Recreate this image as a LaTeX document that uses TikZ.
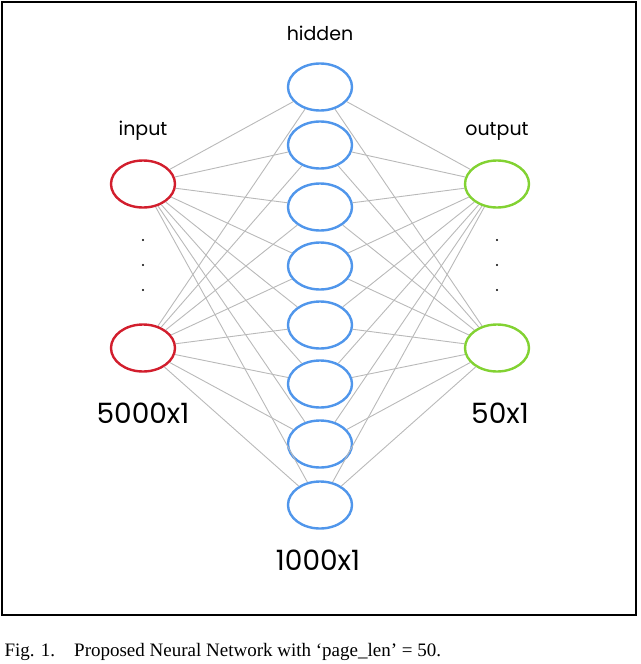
\documentclass[tikz,border=0pt]{standalone}
\usepackage{fontspec}
\setmainfont{Poppins}
\newfontfamily\capfont{Liberation Serif}
\usetikzlibrary{shapes.geometric}
\begin{document}
\begin{tikzpicture}[x=1pt,y=-1pt,
  neuron/.style={ellipse,draw,line width=2.4pt,minimum width=64pt,minimum height=47pt,inner sep=0pt},
  inp/.style={neuron,draw={rgb,255:red,210;green,30;blue,45}},
  hid/.style={neuron,draw={rgb,255:red,80;green,150;blue,235}},
  outp/.style={neuron,draw={rgb,255:red,130;green,210;blue,50}},
  edge/.style={draw={rgb,255:red,185;green,185;blue,185},line width=0.9pt},
  lbl/.style={font=\fontsize{19}{22}\selectfont},
  big/.style={font=\fontsize{28}{32}\selectfont}]
\useasboundingbox (0,0) rectangle (640,664);
\draw[line width=1.2pt] (2,2) rectangle (636,615);
\node[inp] (i1) at (143,184) {};
\node[inp] (i2) at (143,348) {};
\node[outp] (o1) at (497,184) {};
\node[outp] (o2) at (497,348) {};
\foreach \y [count=\k] in {87,145,207,266,325,384,444,505}
  \node[hid] (h\k) at (320,\y) {};
\foreach \k in {1,...,8} {
  \foreach \a in {i1,i2} \draw[edge] (\a) -- (h\k);
  \foreach \b in {o1,o2} \draw[edge] (h\k) -- (\b);
}
\node[lbl] (th) at (320,33) {hidden};
\node[lbl] (ti) at (143,131) {input};
\node[lbl] (to) at (497,131) {output};
\node[big] (ni) at (143,413) {5000x1};
\node[big] (no) at (500,413) {50x1};
\node[big] (nh) at (318,560) {1000x1};
\foreach \y in {240,265,290} {
  \fill (143,\y) circle (1.2pt);
  \fill (497,\y) circle (1.2pt);
}
\node[font=\capfont\fontsize{19}{22}\selectfont,anchor=west] (cap) at (1,652) {Fig. 1.\quad Proposed Neural Network with ‘page\_len’ = 50.};
\end{tikzpicture}
\end{document}
